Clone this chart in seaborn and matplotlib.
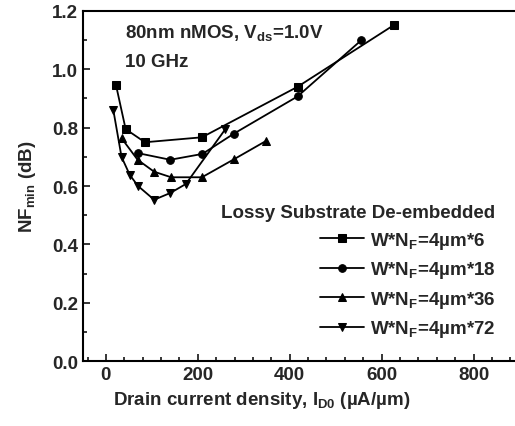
import numpy as np
import pandas as pd
import seaborn as sns
import matplotlib.pyplot as plt
from matplotlib.ticker import MultipleLocator

# data
x_w6 = [22, 43, 85, 209, 417, 627]
y_w6 = [0.946, 0.795, 0.75, 0.767, 0.94, 1.152]
x_w18 = [69, 140, 210, 279, 417, 556]
y_w18 = [0.713, 0.69, 0.71, 0.78, 0.907, 1.10]
x_w36 = [34, 69, 105, 142, 209, 279, 349]
y_w36 = [0.764, 0.69, 0.649, 0.63, 0.63, 0.692, 0.755]
x_w72 = [16, 34, 52, 70, 105, 140, 174, 260]
y_w72 = [0.862, 0.70, 0.638, 0.60, 0.553, 0.576, 0.607, 0.795]

labels = [r"W*N$_{F}$=4µm*6", r"W*N$_{F}$=4µm*18",
          r"W*N$_{F}$=4µm*36", r"W*N$_{F}$=4µm*72"]

frames = []
for lab, xs, ys in zip(labels, [x_w6, x_w18, x_w36, x_w72],
                       [y_w6, y_w18, y_w36, y_w72]):
    frames.append(pd.DataFrame({"x": xs, "y": ys, "dev": lab}))
df = pd.concat(frames)

sns.set_style("ticks")
plt.rcParams['font.family'] = ['Liberation Sans', 'DejaVu Sans']
plt.rcParams['font.weight'] = 'bold'
plt.rcParams['mathtext.fontset'] = 'custom'
plt.rcParams['mathtext.rm'] = 'Liberation Sans:bold'
plt.rcParams['mathtext.it'] = 'Liberation Sans:bold'
plt.rcParams['mathtext.bf'] = 'Liberation Sans:bold'

fs = 13.5
fig = plt.figure(figsize=(5.15, 4.27), dpi=100)
ax = fig.add_axes([0.161, 0.152, 0.87, 0.82])

sns.lineplot(data=df, x="x", y="y", style="dev", markers=["s", "o", "^", "v"],
             dashes=False, color="black", markersize=5.5, linewidth=1.3,
             markeredgecolor="black", ax=ax)

ax.set_xlim(-50, 925)
ax.set_ylim(0, 1.2)
ax.xaxis.set_major_locator(MultipleLocator(200))
ax.xaxis.set_minor_locator(MultipleLocator(40))
ax.yaxis.set_major_locator(MultipleLocator(0.2))
ax.yaxis.set_minor_locator(MultipleLocator(0.1))
ax.yaxis.set_major_formatter(plt.FormatStrFormatter('%.1f'))
ax.tick_params(which='both', direction='in', top=False, right=False,
               labelsize=fs, width=1.3)
ax.tick_params(which='major', length=5)
ax.tick_params(which='minor', length=3)
for s in ax.spines.values():
    s.set_linewidth(1.5)
    s.set_color('black')
ax.spines['right'].set_visible(False)

ax.set_xlabel(r"Drain current density, I$_{D0}$ (µA/µm)", fontsize=fs,
              fontweight='bold')
ax.set_ylabel(r"NF$_{min}$ (dB)", fontsize=fs, fontweight='bold')
ax.xaxis.set_label_coords(0.40, -0.08)
ax.yaxis.set_label_coords(-0.10, 0.5)

ax.text(0.094, 0.94, r"80nm nMOS, V$_{ds}$=1.0V", transform=ax.transAxes,
        fontsize=fs, fontweight='bold', va='center')
ax.text(0.094, 0.855, "10 GHz", transform=ax.transAxes, fontsize=fs,
        fontweight='bold', va='center')

leg = ax.legend(frameon=False, title="Lossy Substrate De-embedded",
                loc='upper right', bbox_to_anchor=(0.95, 0.485),
                fontsize=fs, title_fontsize=fs, labelspacing=0.45,
                handlelength=2.35, handletextpad=0.3, alignment='right',
                borderpad=0.2)
leg.get_title().set_fontweight('bold')

fig.savefig("out.png", dpi=100)
